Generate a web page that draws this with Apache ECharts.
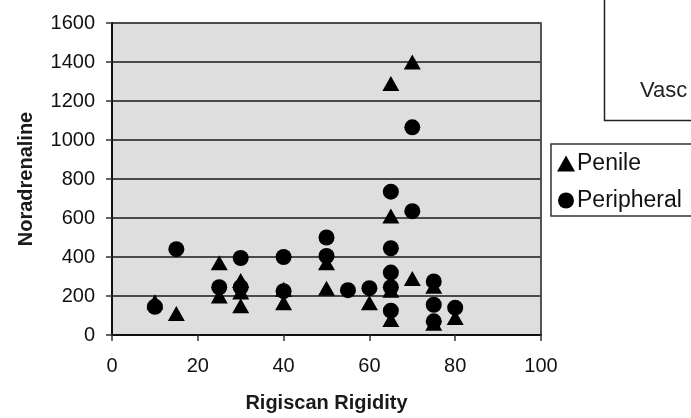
<!DOCTYPE html>
<html>
<head>
<meta charset="utf-8">
<script src="https://cdn.jsdelivr.net/npm/echarts@6/dist/echarts.min.js"></script>
<style>
html,body{margin:0;padding:0;background:#fff;}
#chart{width:691px;height:418px;}
</style>
</head>
<body>
<div id="chart"></div>
<script>
// Data
var penileX = [10, 15, 25, 25, 30, 30, 30, 40, 40, 50, 50, 60, 65, 65, 65, 65, 70, 70, 75, 75, 80];
var penileY = [170, 110, 370, 200, 280, 220, 150, 235, 165, 370, 240, 165, 1290, 610, 230, 80, 1400, 290, 250, 60, 90];
var periphX = [10, 15, 25, 30, 30, 40, 40, 50, 50, 55, 60, 65, 65, 65, 65, 65, 70, 70, 75, 75, 75, 80];
var periphY = [145, 440, 245, 395, 245, 400, 225, 500, 405, 230, 240, 735, 445, 320, 245, 125, 1065, 635, 275, 155, 70, 140];
var seriesNames = ['Penile', 'Peripheral'];
var xTitle = 'Rigiscan Rigidity';
var yTitle = 'Noradrenaline';
var otherLegendText = 'Vasc';

function pairs(xs, ys) { return xs.map(function (x, i) { return [x, ys[i]]; }); }

var FONT = '"Liberation Sans", Arial, Helvetica, sans-serif';
var chart = echarts.init(document.getElementById('chart'));
chart.setOption({
  animation: false,
  backgroundColor: '#ffffff',
  textStyle: { fontFamily: FONT },
  grid: {
    left: 112, right: 150, top: 23, bottom: 80,
    show: true, backgroundColor: '#dedede', borderColor: '#222', borderWidth: 1.5
  },
  xAxis: {
    type: 'value', min: 0, max: 100, interval: 20,
    name: xTitle, nameLocation: 'middle', nameGap: 58,
    nameTextStyle: { fontFamily: FONT, fontSize: 20, fontWeight: 'bold', color: '#1a1a1a' },
    axisLine: { show: true, lineStyle: { color: '#111', width: 2 } },
    axisTick: { show: true, length: 6, lineStyle: { color: '#333', width: 1.5 } },
    axisLabel: { fontFamily: FONT, fontSize: 20, color: '#111', margin: 21,
      formatter: function (v) { return String(v); } },
    splitLine: { show: false }
  },
  yAxis: {
    type: 'value', min: 0, max: 1600, interval: 200,
    name: yTitle, nameLocation: 'middle', nameGap: 76, nameRotate: 90,
    nameTextStyle: { fontFamily: FONT, fontSize: 20, fontWeight: 'bold', color: '#1a1a1a' },
    axisLine: { show: true, lineStyle: { color: '#111', width: 2 } },
    axisTick: { show: true, length: 6, lineStyle: { color: '#333', width: 1.5 } },
    axisLabel: { fontFamily: FONT, fontSize: 20, color: '#111', margin: 17,
      formatter: function (v) { return String(v); } },
    splitLine: { show: true, lineStyle: { color: '#4a4a4a', width: 2 } }
  },
  legend: {
    orient: 'vertical', left: 557, top: 152, padding: 0,
    itemWidth: 18, itemHeight: 16, itemGap: 14,
    textStyle: { fontFamily: FONT, fontSize: 23, color: '#111', padding: [0, 0, 0, -3] },
    data: [
      { name: seriesNames[0], icon: 'triangle' },
      { name: seriesNames[1], icon: 'circle' }
    ]
  },
  graphic: [
    { type: 'rect', shape: { x: 551, y: 144, width: 160, height: 72 },
      style: { fill: 'none', stroke: '#333', lineWidth: 1.5 }, z: 100 },
    { type: 'rect', shape: { x: 604.5, y: -5, width: 120, height: 125.5 },
      style: { fill: '#fff', stroke: '#222', lineWidth: 1.5 }, z: 100 },
    { type: 'text', x: 640, y: 91, z: 101,
      style: { text: otherLegendText, font: '22px ' + FONT, fill: '#222', textVerticalAlign: 'middle' } }
  ],
  series: [
    { name: seriesNames[0], type: 'scatter', symbol: 'triangle', symbolSize: [17, 15],
      itemStyle: { color: '#000', opacity: 1 }, data: pairs(penileX, penileY), z: 3 },
    { name: seriesNames[1], type: 'scatter', symbol: 'circle', symbolSize: 16,
      itemStyle: { color: '#000', opacity: 1 }, data: pairs(periphX, periphY), z: 4 }
  ]
});
</script>
</body>
</html>
